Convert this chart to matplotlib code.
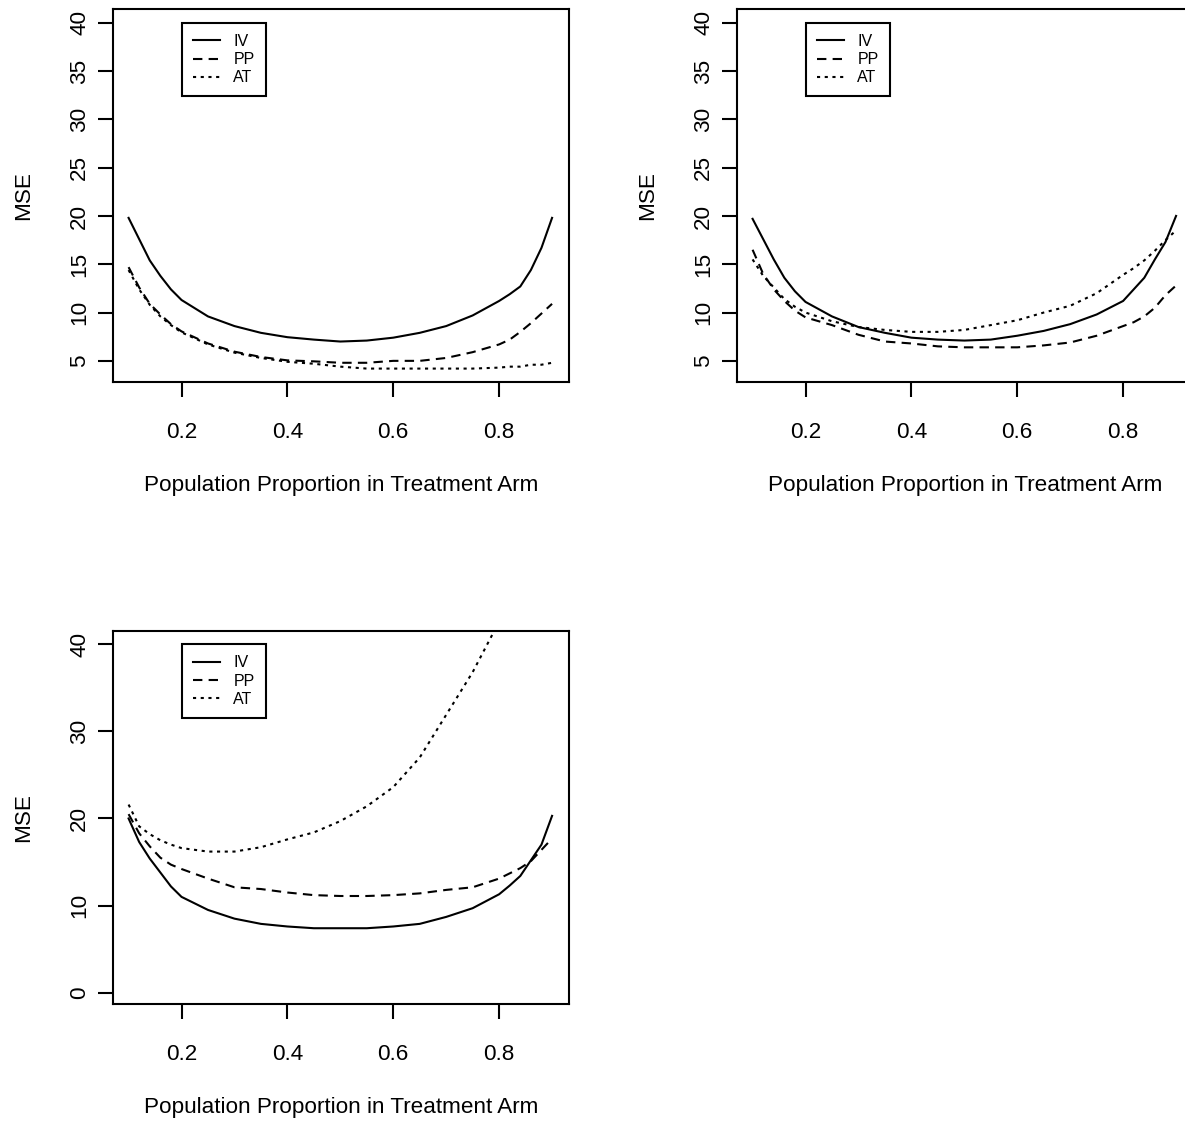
import matplotlib
matplotlib.use("Agg")
import matplotlib.pyplot as plt
import numpy as np

plt.rcParams['font.family'] = ['Liberation Sans', 'DejaVu Sans']

# proportion grid (same for every panel)
p = [0.10, 0.12, 0.14, 0.16, 0.18, 0.20, 0.25, 0.30, 0.35, 0.40, 0.45, 0.50,
     0.55, 0.60, 0.65, 0.70, 0.75, 0.80, 0.82, 0.84, 0.86, 0.88, 0.90]

# panel 1
iv1 = [19.8, 17.6, 15.4, 13.8, 12.4, 11.3, 9.6, 8.6, 7.9, 7.45, 7.2, 7.0,
       7.1, 7.4, 7.9, 8.6, 9.7, 11.2, 11.9, 12.7, 14.4, 16.7, 19.8]
pp1 = [14.7, 12.6, 10.9, 9.8, 8.8, 8.05, 6.8, 5.95, 5.4, 5.05, 4.95, 4.8,
       4.8, 5.0, 5.0, 5.3, 5.9, 6.7, 7.2, 8.0, 8.9, 9.9, 10.9]
at1 = [14.4, 12.4, 10.8, 9.6, 8.7, 7.95, 6.7, 5.85, 5.3, 4.9, 4.7, 4.4,
       4.2, 4.2, 4.2, 4.2, 4.2, 4.3, 4.4, 4.4, 4.6, 4.6, 4.8]

# panel 2
iv2 = [19.7, 17.6, 15.5, 13.6, 12.2, 11.1, 9.6, 8.5, 7.9, 7.4, 7.2, 7.1,
       7.2, 7.6, 8.1, 8.8, 9.8, 11.2, 12.4, 13.6, 15.5, 17.3, 20.0]
pp2 = [16.5, 14.0, 12.4, 11.2, 10.2, 9.5, 8.7, 7.7, 7.0, 6.8, 6.5, 6.4,
       6.4, 6.4, 6.6, 6.9, 7.6, 8.6, 9.0, 9.6, 10.5, 11.8, 12.8]
at2 = [15.5, 13.8, 12.6, 11.4, 10.6, 10.0, 9.1, 8.5, 8.2, 8.0, 8.0, 8.2,
       8.7, 9.2, 10.0, 10.7, 12.0, 13.9, 14.6, 15.4, 16.4, 17.5, 18.5]

# panel 3
iv3 = [20.0, 17.3, 15.4, 13.8, 12.2, 11.0, 9.5, 8.5, 7.9, 7.6, 7.4, 7.4,
       7.4, 7.6, 7.9, 8.7, 9.7, 11.3, 12.3, 13.4, 15.2, 17.0, 20.3]
pp3 = [20.5, 18.3, 16.8, 15.5, 14.7, 14.2, 13.1, 12.1, 11.9, 11.5, 11.2, 11.1,
       11.1, 11.2, 11.4, 11.8, 12.1, 13.1, 13.7, 14.3, 15.1, 16.4, 17.7]
at3 = [21.6, 19.1, 18.2, 17.5, 17.0, 16.6, 16.2, 16.2, 16.7, 17.6, 18.4, 19.7,
       21.4, 23.6, 27.0, 31.9, 36.8, 42.6, 45.5, 48.5, 52.0, 55.5, 59.0]

series_names = ["IV", "PP", "AT"]
xticks = [0.2, 0.4, 0.6, 0.8]
xtick_labels = ["0.2", "0.4", "0.6", "0.8"]
yticks_a = [5, 10, 15, 20, 25, 30, 35, 40]
yticks_b = [0, 10, 20, 30, 40]

W, H = 1185, 1123
fig = plt.figure(figsize=(W / 100, H / 100), dpi=100)

styles = [dict(ls='-'), dict(ls=(0, (4.5, 3))), dict(ls=(0, (1.5, 2.2)))]
fs = 16.2


def panel(rect, data, yticks, ylim):
    ax = fig.add_axes(rect)
    for y, st, name in zip(data, styles, series_names):
        ax.plot(p, y, color='black', lw=1.5, label=name, **st)
    ax.set_xlim(0.07, 0.932)
    ax.set_ylim(*ylim)
    ax.set_xticks(xticks)
    ax.set_xticklabels(xtick_labels)
    ax.set_yticks(yticks)
    ax.set_yticklabels([str(v) for v in yticks])
    for s in ax.spines.values():
        s.set_linewidth(1.5)
    ax.tick_params(axis='both', direction='out', length=10.6, width=1.5,
                   labelsize=fs)
    ax.tick_params(axis='x', pad=18)
    ax.tick_params(axis='y', pad=5.5, labelrotation=90)
    for lab in ax.get_yticklabels():
        lab.set_va('center')
    ax.set_xlabel("Population Proportion in Treatment Arm", fontsize=fs)
    ax.set_ylabel("MSE", fontsize=fs)
    ax.xaxis.set_label_coords(0.5, -0.248)
    ax.yaxis.set_label_coords(-0.172, 0.5)
    leg = ax.legend(loc='upper left', bbox_to_anchor=(0.2, 40),
                    bbox_transform=ax.transData, borderaxespad=0,
                    fontsize=11.5, fancybox=False, framealpha=1,
                    edgecolor='black', handlelength=1.7, handletextpad=0.85,
                    borderpad=0.7, labelspacing=0.2)
    leg.get_frame().set_linewidth(1.5)
    return ax


ax_w = 456.3 / W
ax_h = 373.3 / H
panel([112.7 / W, 1 - 382.3 / H, ax_w, ax_h], [iv1, pp1, at1], yticks_a, (2.78, 41.42))
panel([736.7 / W, 1 - 382.3 / H, ax_w, ax_h], [iv2, pp2, at2], yticks_a, (2.78, 41.42))
panel([112.7 / W, 1 - 1004 / H, ax_w, ax_h], [iv3, pp3, at3], yticks_b, (-1.3, 41.56))

fig.savefig("out.png", dpi=100)
